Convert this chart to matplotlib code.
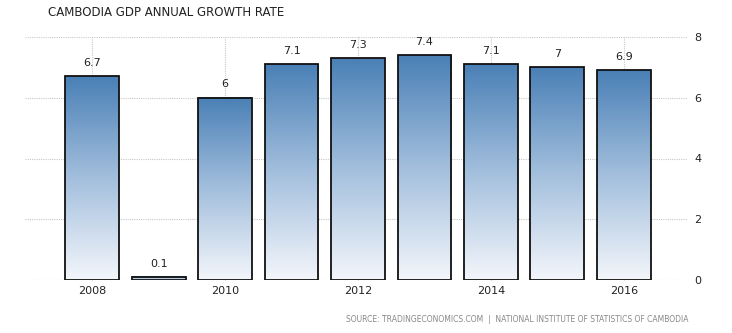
import matplotlib
matplotlib.use("Agg")
import matplotlib.pyplot as plt
import numpy as np
from matplotlib.colors import LinearSegmentedColormap

years = [2008, 2009, 2010, 2011, 2012, 2013, 2014, 2015, 2016]
growth = [6.7, 0.1, 6.0, 7.1, 7.3, 7.4, 7.1, 7.0, 6.9]
labels = ["6.7", "0.1", "6", "7.1", "7.3", "7.4", "7.1", "7", "6.9"]
xticks = [2008, 2010, 2012, 2014, 2016]
yticks = [0, 2, 4, 6, 8]

fig = plt.figure(figsize=(7.32, 3.33), dpi=100)
ax = fig.add_axes([25/732, 1-280/333, (687-25)/732, (280-37)/333])
xlim = (2006.99, 2016.95)

cmap = LinearSegmentedColormap.from_list("g", ["#f3f6fb", "#a3bfdd", "#4a80b6"])
grad = np.linspace(0, 1, 256).reshape(-1, 1)
w = 0.81
for x, v, lab in zip(years, growth, labels):
    ax.imshow(grad, extent=(x - w/2, x + w/2, 0, v), origin="lower", cmap=cmap,
              aspect="auto", zorder=2, interpolation="bilinear")
    ax.add_patch(plt.Rectangle((x - w/2, 0), w, v, fill=False, edgecolor="#111111",
                               linewidth=1.3, zorder=3))
    ax.annotate(lab, (x, v), xytext=(0, 6), textcoords="offset points",
                ha="center", va="bottom", fontsize=8, color="#222222")
ax.set_xlim(*xlim)
ax.set_ylim(0, 8)

for s in ax.spines.values():
    s.set_visible(False)
ax.yaxis.tick_right()
ax.set_yticks(yticks)
ax.set_yticklabels([str(t) for t in yticks], fontsize=8, color="#222222")
ax.set_xticks(xticks)
ax.set_xticklabels([str(t) for t in xticks], fontsize=8, color="#222222")
ax.tick_params(axis="y", length=0, pad=5)
ax.tick_params(axis="x", length=4, color="#bbbbbb", pad=4, direction="in")
ax.grid(True, axis="both", linestyle=(0, (1, 1)), color="#c8c8c8", linewidth=0.8, zorder=0)
ax.set_axisbelow(True)

fig.text(48/732, 1-12/333, "CAMBODIA GDP ANNUAL GROWTH RATE", fontsize=8.5,
         color="#222222", va="center", ha="left")
fig.text(688/732, 1-320/333,
         "SOURCE: TRADINGECONOMICS.COM  |  NATIONAL INSTITUTE OF STATISTICS OF CAMBODIA",
         fontsize=5.5, color="#888888", va="center", ha="right")

fig.savefig("out.png", dpi=100)
